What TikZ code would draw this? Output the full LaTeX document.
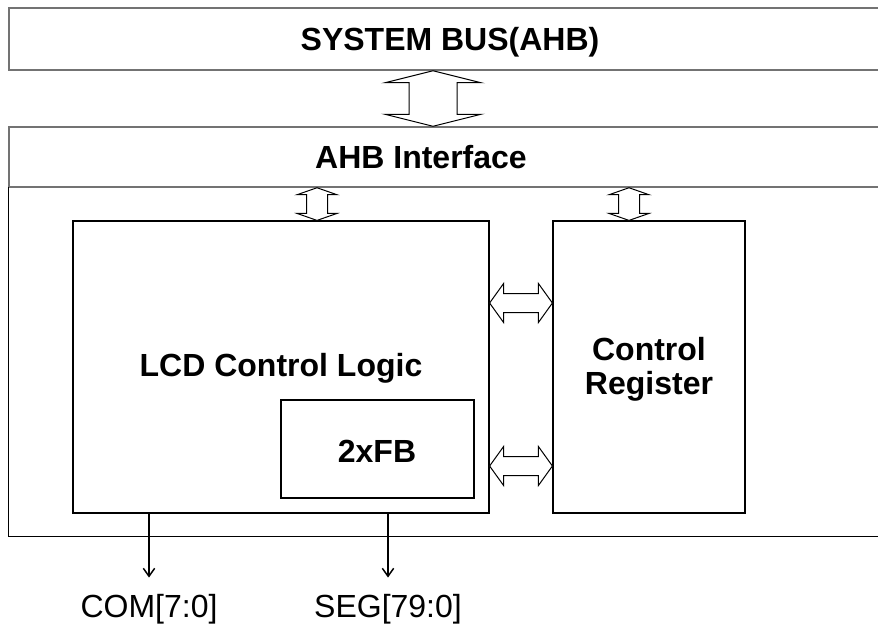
\documentclass[tikz,border=0pt]{standalone}
\usepackage{fontspec}
\setmainfont{Liberation Sans}
\usetikzlibrary{calc,fit,arrows.meta}
\newcommand\vfat[5]{%
  \draw[fat] (#1) -- ($(#1)+(#3,#5)$) -- ($(#1)+(#4,#5)$) -- ($(#2)+(#4,-#5)$) -- ($(#2)+(#3,-#5)$) -- (#2)
    -- ($(#2)+(-#3,-#5)$) -- ($(#2)+(-#4,-#5)$) -- ($(#1)+(-#4,#5)$) -- ($(#1)+(-#3,#5)$) -- cycle;}
\newcommand\hfat[5]{%
  \draw[fat] (#1) -- ($(#1)+(#5,-#3)$) -- ($(#1)+(#5,-#4)$) -- ($(#2)+(-#5,-#4)$) -- ($(#2)+(-#5,-#3)$) -- (#2)
    -- ($(#2)+(-#5,#3)$) -- ($(#2)+(-#5,#4)$) -- ($(#1)+(#5,#4)$) -- ($(#1)+(#5,#3)$) -- cycle;}
\begin{document}
\begin{tikzpicture}[x=0.75pt,y=-0.75pt,
  graybox/.style={draw=black!55,line width=1.1pt,inner sep=0pt},
  blkbox/.style={draw=black,line width=0.9pt,inner sep=0pt},
  lbl/.style={font=\fontsize{24}{25.5}\selectfont\bfseries, inner sep=0pt, align=center},
  sig/.style={font=\fontsize{24}{28}\selectfont, inner sep=0pt},
  fat/.style={draw=black,line width=0.75pt,fill=white,line join=miter},
  outarrow/.style={draw=black,line width=1.1pt,-{Straight Barb[length=6pt,width=8.5pt]}}]
\useasboundingbox (0,0) rectangle (878,626);
\fill[white] (0,0) rectangle (878,626);
\clip (0,0) rectangle (878,626);
% boxes
\node[graybox,fit={(9,8)(895,70)}] (bus) {};
\node[lbl] (bustext) at (450,42) {SYSTEM BUS(AHB)};
\node[graybox,fit={(9,127)(895,187)}] (ahb) {};
\node[lbl] (ahbtext) at (421,157) {AHB Interface};
\node[inner sep=0pt,fit={(9,187)(895,536)}] (core) {};
\draw[black,line width=0.9pt] (core.north west) -- (core.south west) -- (core.south east);
\node[blkbox,fit={(73,221)(489,513)}] (lcd) {};
\node[lbl] (lcdtext) at (281,368) {LCD Control Logic};
\node[blkbox,fit={(281,400)(474,498)}] (fb) {};
\node[lbl] (fbtext) at (377,451) {2xFB};
\node[blkbox,fit={(553,221)(745,513)}] (reg) {};
\node[lbl] (regtext) at (649,369) {Control\\Register};
% fat arrows
\coordinate (x1) at (433,0);
\coordinate (x2) at (317,0);
\coordinate (x3) at (629,0);
\coordinate (y1) at (0,303);
\coordinate (y2) at (0,466);
\vfat{bus.south -| x1}{ahb.north -| x1}{48}{24}{12}
\vfat{ahb.south -| x2}{lcd.north -| x2}{20}{10.5}{7}
\vfat{ahb.south -| x3}{lcd.north -| x3}{20}{10.5}{7}
\hfat{lcd.east |- y1}{reg.west |- y1}{19.5}{9.5}{14}
\hfat{lcd.east |- y2}{reg.west |- y2}{19.5}{9.5}{14}
% outputs
\node[sig,anchor=base] (com) at (149,617) {COM[7:0]};
\node[sig,anchor=base] (seg) at (388,617) {SEG[79:0]};
\draw[outarrow] (lcd.south -| com) -- ($(com.north)+(0,-16)$);
\draw[outarrow] (lcd.south -| seg) -- ($(seg.north)+(0,-16)$);
\end{tikzpicture}
\end{document}
